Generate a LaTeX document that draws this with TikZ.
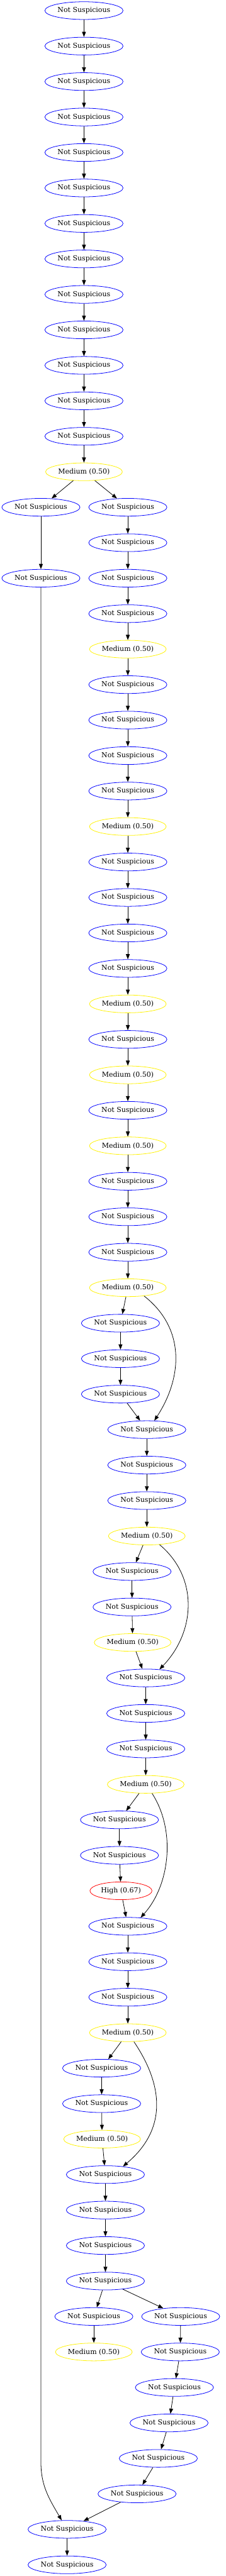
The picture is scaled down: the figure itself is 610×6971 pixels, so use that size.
\documentclass[tikz,border=0pt]{standalone}
\usepackage{fontspec}
\setmainfont{DejaVu Serif}
\usetikzlibrary{shapes.geometric,arrows.meta}
\begin{document}
\begin{tikzpicture}[x=0.75pt,y=0.75pt,
  base/.style={ellipse,draw,line width=1pt,inner sep=0pt,minimum height=36pt,
    font=\fontsize{14pt}{16pt}\selectfont,text=black},
  ns/.style={base,draw=blue,minimum width=158.4pt},
  med/.style={base,draw=yellow,minimum width=155.6pt},
  hi/.style={base,draw=red,minimum width=125.7pt},
  edge/.style={line width=1pt,-{Triangle[length=10.5pt,width=7.8pt]}}]
\useasboundingbox (0,0) rectangle (610,-6971);

% top chain
\foreach \k in {0,...,12} \node[ns] (n\k) at (227,{-28.7-96*\k}) {Not Suspicious};
\node[med] (n13) at (227,{-28.7-96*13}) {Medium (0.50)};
% left branch
\node[ns] (l14) at (110.6,{-28.7-96*14}) {Not Suspicious};
\node[ns] (l16) at (110.6,{-28.7-96*16}) {Not Suspicious};
% right column
\foreach \k in {14,15,16,17,19,20,21,22,24,25,26,27,29,31,33,34,35}
  \node[ns] (n\k) at (345.6,{-28.7-96*\k}) {Not Suspicious};
\foreach \k in {18,23,28,30,32,36}
  \node[med] (n\k) at (345.6,{-28.7-96*\k}) {Medium (0.50)};
\foreach \k in {37,38,39}
  \node[ns] (n\k) at (325.7,{-28.7-96*\k}) {Not Suspicious};
\foreach \k in {40,41,42}
  \node[ns] (n\k) at (396.9,{-28.7-96*\k}) {Not Suspicious};
\node[med] (n43) at (396.9,{-28.7-96*43}) {Medium (0.50)};
\foreach \k in {44,45}
  \node[ns] (n\k) at (357,{-28.7-96*\k}) {Not Suspicious};
\node[med] (n46) at (358.6,{-28.7-96*46}) {Medium (0.50)};
\foreach \k in {47,48,49}
  \node[ns] (n\k) at (394,{-28.7-96*\k}) {Not Suspicious};
\node[med] (n50) at (394,{-28.7-96*50}) {Medium (0.50)};
\foreach \k in {51,52}
  \node[ns] (n\k) at (323,{-28.7-96*\k}) {Not Suspicious};
\node[hi] (n53) at (327,{-28.7-96*53}) {High (0.67)};
\foreach \k in {54,55,56}
  \node[ns] (n\k) at (345.6,{-28.7-96*\k}) {Not Suspicious};
\node[med] (n57) at (345.6,{-28.7-96*57}) {Medium (0.50)};
\foreach \k in {58,59}
  \node[ns] (n\k) at (274.8,{-28.7-96*\k}) {Not Suspicious};
\node[med] (n60) at (276,{-28.7-96*60}) {Medium (0.50)};
\foreach \k in {61,...,64}
  \node[ns] (n\k) at (285,{-28.7-96*\k}) {Not Suspicious};
\node[ns] (a65) at (253.7,{-28.7-96*65}) {Not Suspicious};
\node[med] (a66) at (253.7,{-28.7-96*66}) {Medium (0.50)};
\node[ns] (n65) at (488.5,{-28.7-96*65}) {Not Suspicious};
\node[ns] (n66) at (487.4,{-28.7-96*66}) {Not Suspicious};
\node[ns] (n67) at (471.5,{-28.7-96*67}) {Not Suspicious};
\node[ns] (n68) at (457,{-28.7-96*68}) {Not Suspicious};
\node[ns] (n69) at (428,{-28.7-96*69}) {Not Suspicious};
\node[ns] (n70) at (370.5,{-28.7-96*70}) {Not Suspicious};
\node[ns] (n71) at (181.4,{-28.7-96*71}) {Not Suspicious};
\node[ns] (n72) at (181.4,{-28.7-96*72}) {Not Suspicious};

% main chain edges
\foreach \i [count=\j from 1] in {0,...,71} \draw[edge] (n\i) -- (n\j);
% other edges
\draw[edge] (n13) -- (l14);
\draw[edge] (l14) -- (l16);
\coordinate (bend) at (110.6,-6663);
\draw[edge] (l16) -- (bend) to[out=-90,in=120] (n71.121);
\draw[edge] (n36.-27) to[out=-38,in=57,looseness=1.07] (n40.50);
\draw[edge] (n43.-34) to[out=-40,in=46,looseness=1.06] (n47.32);
\draw[edge] (n50.-55) to[out=-57,in=48,looseness=0.9] (n54.34);
\draw[edge] (n57.-56) to[out=-56,in=40,looseness=1.14] (n61.25);
\draw[edge] (n64) -- (a65);
\draw[edge] (a65) -- (a66);
\end{tikzpicture}
\end{document}
